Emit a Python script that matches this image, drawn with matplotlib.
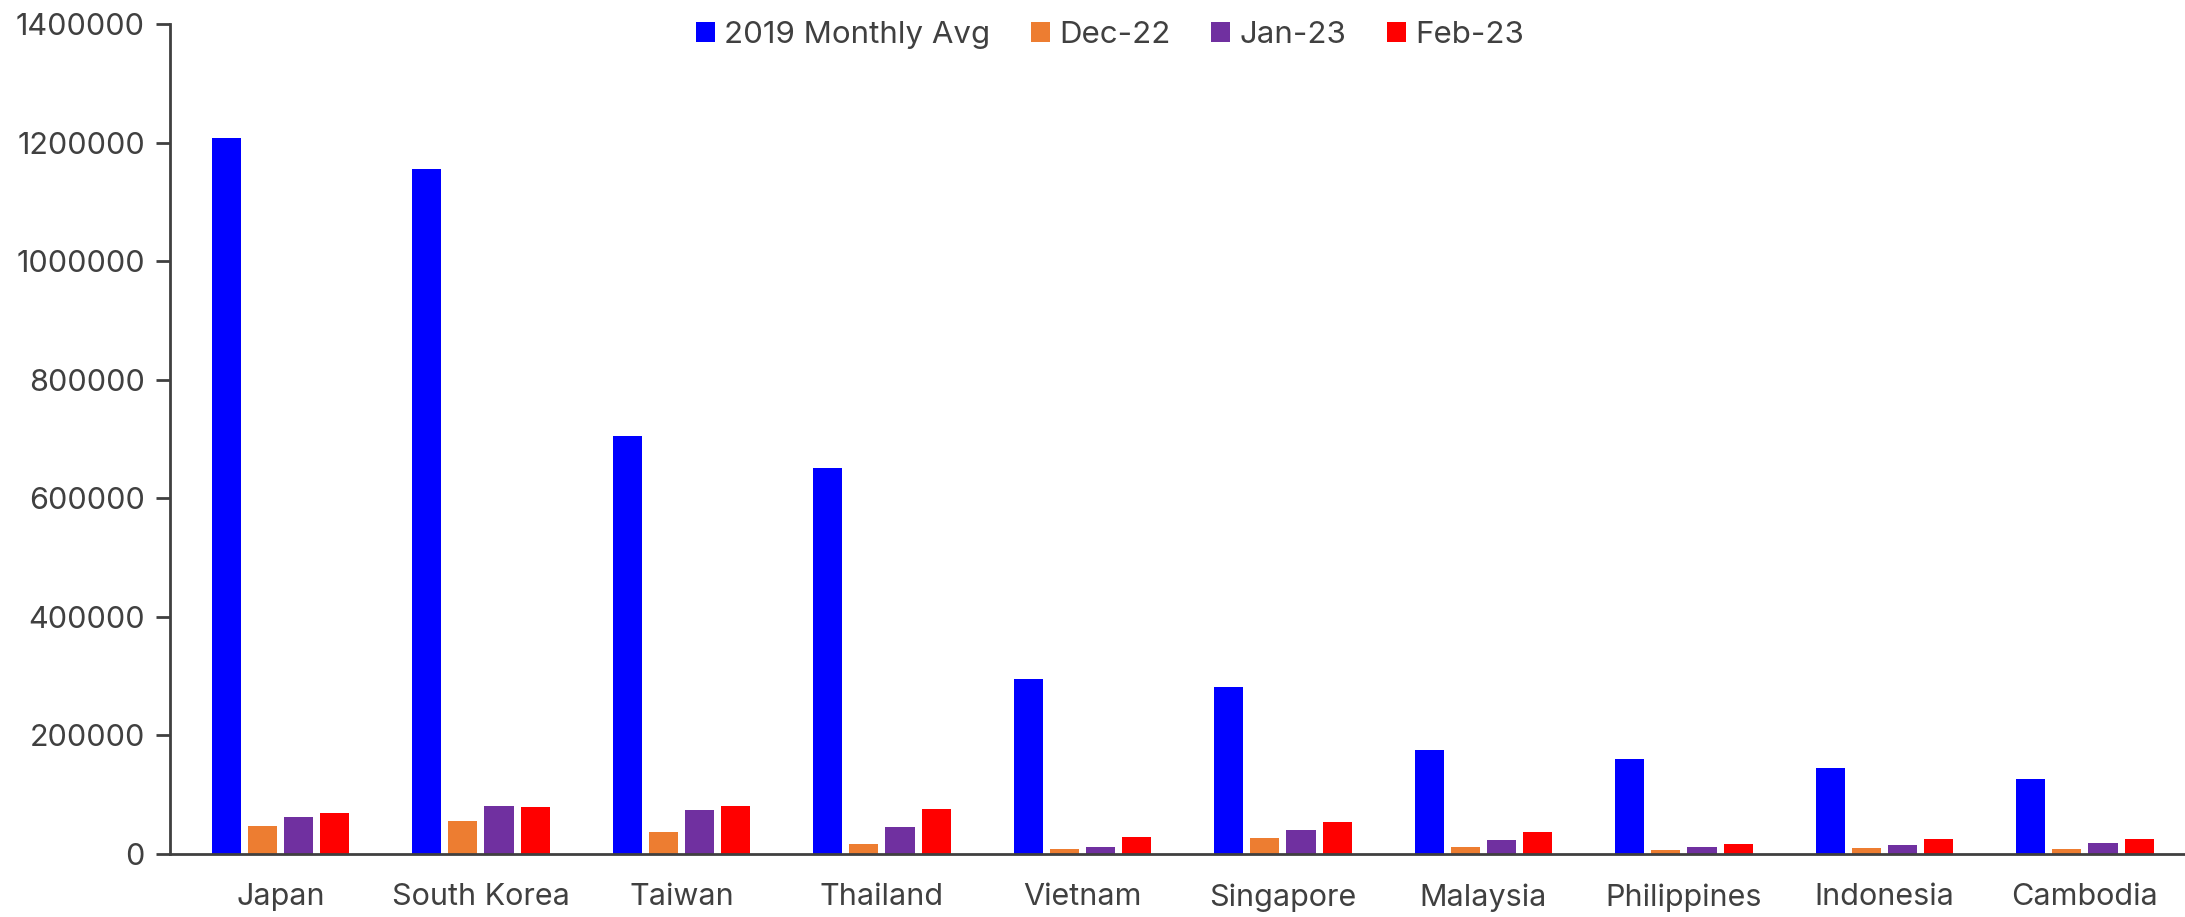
import matplotlib.pyplot as plt
import numpy as np

plt.rcParams['font.family'] = ['Inter', 'DejaVu Sans']

countries = ['Japan', 'South Korea', 'Taiwan', 'Thailand', 'Vietnam',
             'Singapore', 'Malaysia', 'Philippines', 'Indonesia', 'Cambodia']
avg_2019 = [1207000, 1156000, 705000, 651000, 295500, 281000, 176000, 159500, 144500, 126500]
dec_22 = [46800, 56300, 37700, 16900, 8400, 27500, 12400, 6700, 10700, 8400]
jan_23 = [63100, 81100, 74900, 45600, 11800, 40500, 24200, 11800, 15700, 19100]
feb_23 = [69900, 79400, 81700, 75500, 29200, 54500, 37700, 17400, 25900, 25900]

series = ['2019 Monthly Avg', 'Dec-22', 'Jan-23', 'Feb-23']
colors = ['#0000FF', '#ED7D31', '#7030A0', '#FF0000']
txt = '#404040'

fig = plt.figure(figsize=(21.85, 9.17), dpi=100)
ax = fig.add_axes([0.0778, 0.0687, 0.9222, 0.9051])

x = np.arange(len(countries))
step = 0.18
width = 0.145
for i, (vals, name, c) in enumerate(zip([avg_2019, dec_22, jan_23, feb_23], series, colors)):
    ax.bar(x + (i - 1.5) * step, vals, width, color=c, label=name)

ax.set_xlim(-0.551, 9.499)
ax.set_ylim(0, 1400000)
ax.set_yticks(np.arange(0, 1400001, 200000))
ax.set_yticklabels([str(v) for v in range(0, 1400001, 200000)])
ax.set_xticks(x)
ax.set_xticklabels(countries)

for s in ['top', 'right']:
    ax.spines[s].set_visible(False)
for s in ['left', 'bottom']:
    ax.spines[s].set_color(txt)
    ax.spines[s].set_linewidth(2)

ax.tick_params(axis='y', length=10, width=2, color=txt, labelsize=22, labelcolor=txt, pad=8)
ax.tick_params(axis='x', length=0, labelsize=22, labelcolor=txt, pad=21)

fig.legend(loc='center', bbox_to_anchor=(0.508, 0.962), ncol=4, frameon=False,
           fontsize=22.5, labelcolor=txt, handlelength=0.6, handleheight=0.6,
           handletextpad=0.3, columnspacing=1.3)

fig.savefig('out.png', dpi=100)
